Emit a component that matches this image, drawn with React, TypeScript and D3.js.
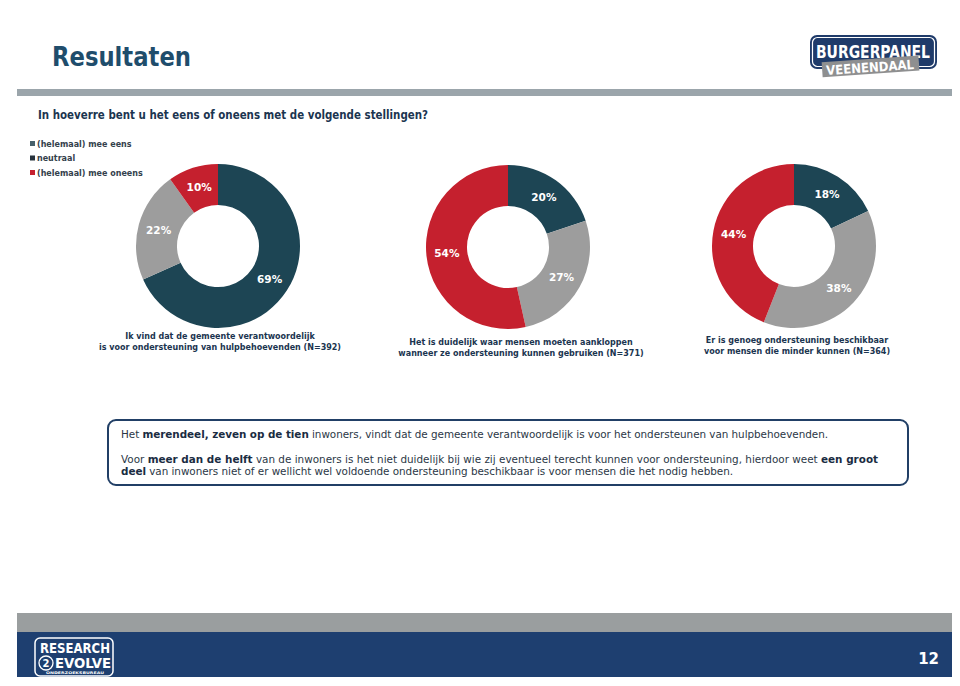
import React from "react";
import * as d3 from "d3";

// ---------- data ----------
const categories = ["(helemaal) mee eens", "neutraal", "(helemaal) mee oneens"];
const statementLine1 = [
  "Ik vind dat de gemeente verantwoordelijk",
  "Het is duidelijk waar mensen moeten aankloppen",
  "Er is genoeg ondersteuning beschikbaar",
];
const statementLine2 = [
  "is voor ondersteuning van hulpbehoevenden",
  "wanneer ze ondersteuning kunnen gebruiken",
  "voor mensen die minder kunnen",
];
const sampleSizes = [392, 371, 364];
const agreeValues = [69, 20, 18];
const neutralValues = [22, 27, 38];
const disagreeValues = [10, 54, 44];

// ---------- style / layout ----------
const W = 960;
const H = 686;
const seriesColors = ["#1d4554", "#9d9d9d", "#c5202e"];
const legendMarkerColors = ["#47606a", "#27323d", "#c5202e"];
const navy = "#1e3f70";
const titleColor = "#1f4d6c";
const textNavy = "#1b3550";
const font = "'DejaVu Sans', Verdana, sans-serif";
const donutCenters: [number, number][] = [
  [218, 246],
  [508, 247],
  [794, 246],
];
const captionX = [220, 521, 797];
const captionY = [339, 345, 343];
const outerR = 82;
const innerR = 41;

function Donut({ idx }: { idx: number }) {
  const values = [agreeValues[idx], neutralValues[idx], disagreeValues[idx]];
  const pie = d3
    .pie<number>()
    .sort(null)
    .value((d) => d);
  const arcs = pie(values);
  const arc = d3.arc<d3.PieArcDatum<number>>().innerRadius(innerR).outerRadius(outerR);
  const labelArc = d3
    .arc<d3.PieArcDatum<number>>()
    .innerRadius((innerR + outerR) / 2)
    .outerRadius((innerR + outerR) / 2);
  const [cx, cy] = donutCenters[idx];
  return (
    <g transform={`translate(${cx},${cy})`}>
      {arcs.map((a, i) => (
        <path key={i} d={arc(a) || ""} fill={seriesColors[i]} />
      ))}
      {arcs.map((a, i) => {
        const [lx, ly] = labelArc.centroid(a);
        return (
          <text
            key={"l" + i}
            x={lx}
            y={ly}
            dy="0.35em"
            textAnchor="middle"
            fill="#ffffff"
            fontFamily={font}
            fontWeight="bold"
            fontSize={10.5}
          >
            {values[i]}%
          </text>
        );
      })}
    </g>
  );
}

export default function App() {
  const bold = { fontWeight: "bold" as const, fill: "#1a2c42" };
  return (
    <svg
      width={W}
      height={H}
      viewBox={`0 0 ${W} ${H}`}
      style={{ position: "absolute", left: 0, top: 0, background: "#ffffff" }}
    >
      <rect x={0} y={0} width={W} height={H} fill="#ffffff" />

      {/* title */}
      <text
        x={52}
        y={66}
        fill={titleColor}
        fontFamily={font}
        fontWeight="bold"
        fontSize={26}
        textLength={139}
        lengthAdjust="spacingAndGlyphs"
      >
        Resultaten
      </text>

      {/* logo Burgerpanel */}
      <g>
        <rect x={810} y={35} width={127} height={34} rx={7} fill="#1f3b6a" />
        <rect x={812.5} y={37.5} width={122} height={29} rx={5} fill="none" stroke="#ffffff" strokeWidth={1.2} />
        <text
          x={873}
          y={58}
          textAnchor="middle"
          fill="#ffffff"
          fontFamily="'DejaVu Sans Condensed', 'DejaVu Sans', sans-serif"
          fontWeight="bold"
          fontSize={17}
          textLength={114}
          lengthAdjust="spacingAndGlyphs"
        >
          BURGERPANEL
        </text>
        <g transform="rotate(-4 870 66)">
          <rect x={822} y={59} width={97} height={15} fill="#8e8f90" />
          <text
            x={870}
            y={72}
            textAnchor="middle"
            fill="#ffffff"
            fontFamily="'DejaVu Sans Condensed', 'DejaVu Sans', sans-serif"
            fontWeight="bold"
            fontSize={13}
            textLength={88}
            lengthAdjust="spacingAndGlyphs"
          >
            VEENENDAAL
          </text>
        </g>
      </g>

      {/* header bar */}
      <rect x={17} y={89} width={935} height={7} fill="#9ba5ab" />

      {/* question */}
      <text
        x={38}
        y={119}
        fill={textNavy}
        fontFamily={font}
        fontWeight="bold"
        fontSize={12}
        textLength={390}
        lengthAdjust="spacingAndGlyphs"
      >
        In hoeverre bent u het eens of oneens met de volgende stellingen?
      </text>

      {/* legend */}
      {categories.map((c, i) => (
        <g key={c} transform={`translate(30,${144 + i * 14.5})`}>
          <rect x={0} y={-3} width={5} height={5} fill={legendMarkerColors[i]} />
          <text
            x={7}
            y={0}
            dy="0.35em"
            fill="#34414c"
            fontFamily={font}
            fontWeight="bold"
            fontSize={8}
          >
            {c}
          </text>
        </g>
      ))}

      {/* donuts */}
      {[0, 1, 2].map((i) => (
        <Donut key={i} idx={i} />
      ))}

      {/* captions */}
      {[0, 1, 2].map((i) => (
        <text
          key={"c" + i}
          textAnchor="middle"
          fill={textNavy}
          fontFamily={font}
          fontWeight="bold"
          fontSize={8}
        >
          <tspan x={captionX[i]} y={captionY[i]}>
            {statementLine1[i]}
          </tspan>
          <tspan x={captionX[i]} y={captionY[i] + 10.5}>
            {`${statementLine2[i]} (N=${sampleSizes[i]})`}
          </tspan>
        </text>
      ))}

      {/* conclusion box */}
      <rect x={108} y={420} width={800} height={65} rx={8} fill="#ffffff" stroke="#213f66" strokeWidth={2} />
      <g fontFamily={font} fontSize={10.4} fill="#2b3746">
        <text x={121} y={438} textLength={707} lengthAdjust="spacing">
          Het <tspan {...bold}>merendeel, zeven op de tien</tspan> inwoners, vindt dat de gemeente verantwoordelijk is
          voor het ondersteunen van hulpbehoevenden.
        </text>
        <text x={121} y={462.5} textLength={757} lengthAdjust="spacing">
          Voor <tspan {...bold}>meer dan de helft</tspan> van de inwoners is het niet duidelijk bij wie zij eventueel
          terecht kunnen voor ondersteuning, hierdoor weet <tspan {...bold}>een groot</tspan>
        </text>
        <text x={121} y={475} textLength={612} lengthAdjust="spacing">
          <tspan {...bold}>deel</tspan> van inwoners niet of er wellicht wel voldoende ondersteuning beschikbaar is voor
          mensen die het nodig hebben.
        </text>
      </g>

      {/* footer */}
      <rect x={17} y={613} width={935} height={19} fill="#9a9e9f" />
      <rect x={17} y={632} width={935} height={45} fill={navy} />
      <g>
        <rect x={35} y={638} width={78} height={38} rx={5} fill="none" stroke="#ffffff" strokeWidth={1.5} />
        <text
          x={75}
          y={653}
          textAnchor="middle"
          fill="#ffffff"
          fontFamily="'DejaVu Sans Condensed', 'DejaVu Sans', sans-serif"
          fontWeight="bold"
          fontSize={14}
          textLength={70}
          lengthAdjust="spacingAndGlyphs"
        >
          RESEARCH
        </text>
        <circle cx={46} cy={663} r={7} fill="none" stroke="#ffffff" strokeWidth={1.3} />
        <text x={46} y={667} textAnchor="middle" fill="#ffffff" fontFamily={font} fontWeight="bold" fontSize={10}>
          2
        </text>
        <text
          x={83}
          y={668}
          textAnchor="middle"
          fill="#ffffff"
          fontFamily="'DejaVu Sans Condensed', 'DejaVu Sans', sans-serif"
          fontWeight="bold"
          fontSize={14}
          textLength={56}
          lengthAdjust="spacingAndGlyphs"
        >
          EVOLVE
        </text>
        <text
          x={75}
          y={674}
          textAnchor="middle"
          fill="#ffffff"
          fontFamily={font}
          fontWeight="bold"
          fontSize={3.5}
          textLength={58}
          lengthAdjust="spacingAndGlyphs"
        >
          ONDERZOEKSBUREAU
        </text>
      </g>
      <text x={939} y={664} textAnchor="end" fill="#ffffff" fontFamily={font} fontWeight="bold" fontSize={15}>
        12
      </text>
    </svg>
  );
}
